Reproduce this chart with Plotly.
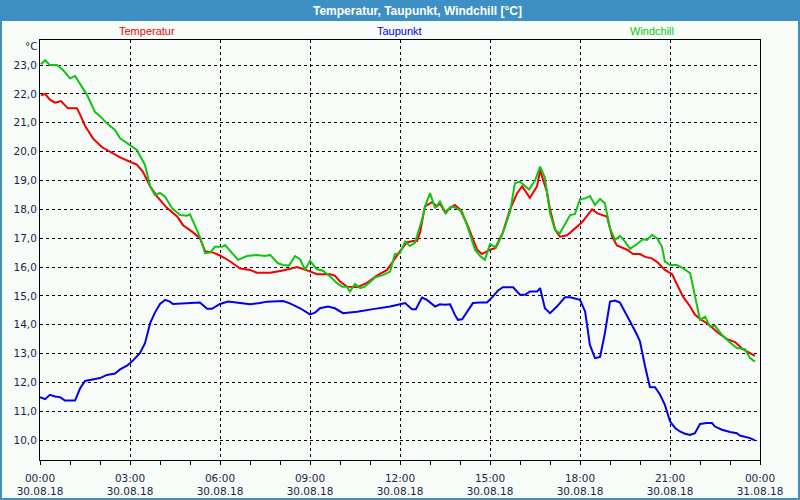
import plotly.graph_objects as go

# hours since 30.08.18 00:00 and readings in degC
temp_hours = [0.03, 0.17, 0.33, 0.5, 0.7, 0.93, 1.23, 1.33, 1.5, 1.77, 2.07, 2.33, 2.67, 3.0, 3.23, 3.43,
              3.67, 3.9, 4.23, 4.57, 4.77, 5.1, 5.33, 5.5, 5.77, 6.0, 6.33, 6.67, 7.0, 7.23, 7.67, 8.1,
              8.57, 9.0, 9.23, 9.67, 9.83, 10.0, 10.23, 10.57, 10.9, 11.23, 11.57, 11.77, 12.0, 12.23,
              12.43, 12.57, 12.67, 12.83, 13.07, 13.23, 13.33, 13.5, 13.67, 13.83, 14.0, 14.23, 14.43,
              14.57, 14.73, 15.0, 15.17, 15.43, 15.67, 15.9, 16.07, 16.33, 16.57, 16.67, 16.9, 17.0,
              17.17, 17.33, 17.57, 17.83, 18.07, 18.4, 18.6, 18.9, 19.07, 19.23, 19.57, 19.77, 20.0,
              20.17, 20.4, 20.6, 20.83, 21.07, 21.27, 21.43, 21.67, 21.83, 22.0, 22.23, 22.4, 22.6,
              22.9, 23.17, 23.43, 23.67, 23.83]
temperatur = [21.95, 22.0, 21.8, 21.7, 21.75, 21.5, 21.5, 21.3, 20.9, 20.45, 20.15, 20.0, 19.8, 19.65,
              19.55, 19.3, 18.8, 18.45, 18.05, 17.75, 17.45, 17.2, 17.0, 16.55, 16.5, 16.4, 16.2, 15.95,
              15.9, 15.8, 15.8, 15.88, 16.0, 15.85, 15.75, 15.75, 15.7, 15.5, 15.32, 15.3, 15.45, 15.7,
              15.9, 16.2, 16.55, 16.85, 16.9, 16.9, 17.2, 18.1, 18.25, 18.1, 18.2, 17.9, 18.05, 18.15,
              18.0, 17.5, 16.95, 16.6, 16.45, 16.6, 16.65, 17.2, 18.0, 18.55, 18.8, 18.4, 18.8, 19.35,
              18.6, 18.0, 17.3, 17.05, 17.1, 17.35, 17.55, 18.0, 17.85, 17.75, 17.05, 16.75, 16.6,
              16.45, 16.45, 16.35, 16.3, 16.15, 15.9, 15.75, 15.3, 14.98, 14.63, 14.35, 14.2, 14.05,
              13.9, 13.72, 13.5, 13.4, 13.15, 13.0, 12.92]

dew_hours = [0.0, 0.17, 0.33, 0.5, 0.67, 0.83, 1.17, 1.33, 1.5, 1.67, 2.0, 2.23, 2.5, 2.67, 2.9, 3.07,
             3.23, 3.33, 3.5, 3.67, 3.83, 4.0, 4.17, 4.33, 4.43, 4.93, 5.33, 5.57, 5.73, 6.0, 6.27,
             6.67, 7.0, 7.33, 7.57, 8.1, 8.33, 8.67, 9.0, 9.17, 9.33, 9.6, 9.83, 10.1, 10.57, 11.1,
             11.67, 12.0, 12.17, 12.4, 12.53, 12.73, 12.9, 13.17, 13.33, 13.5, 13.67, 13.83, 13.93,
             14.07, 14.27, 14.43, 14.67, 14.9, 15.1, 15.27, 15.43, 15.77, 16.0, 16.17, 16.33, 16.57,
             16.67, 16.83, 17.0, 17.23, 17.5, 17.67, 18.0, 18.17, 18.33, 18.5, 18.67, 18.83, 19.0,
             19.17, 19.33, 19.5, 19.67, 19.9, 20.0, 20.17, 20.33, 20.5, 20.67, 20.83, 21.0, 21.17,
             21.33, 21.5, 21.67, 21.83, 22.0, 22.23, 22.4, 22.5, 22.73, 23.0, 23.23, 23.33, 23.67,
             23.83]
taupunkt = [11.49, 11.42, 11.57, 11.51, 11.49, 11.37, 11.37, 11.78, 12.05, 12.08, 12.15, 12.26, 12.31,
            12.45, 12.58, 12.73, 12.92, 13.01, 13.36, 14.05, 14.42, 14.72, 14.86, 14.8, 14.72, 14.75,
            14.77, 14.55, 14.55, 14.72, 14.8, 14.75, 14.71, 14.75, 14.8, 14.82, 14.74, 14.57, 14.36,
            14.42, 14.57, 14.63, 14.57, 14.4, 14.45, 14.54, 14.63, 14.71, 14.75, 14.54, 14.54, 14.94,
            14.86, 14.63, 14.71, 14.69, 14.71, 14.34, 14.17, 14.19, 14.51, 14.75, 14.77, 14.77, 14.98,
            15.19, 15.3, 15.3, 15.04, 15.04, 15.15, 15.15, 15.27, 14.57, 14.4, 14.63, 14.95, 14.95,
            14.86, 14.46, 13.3, 12.84, 12.88, 13.71, 14.8, 14.84, 14.77, 14.46, 14.11, 13.65, 13.42,
            12.55, 11.84, 11.83, 11.57, 11.22, 10.65, 10.42, 10.3, 10.22, 10.18, 10.24, 10.56, 10.59,
            10.59, 10.47, 10.36, 10.28, 10.24, 10.16, 10.07, 9.99]

chill_hours = [0.03, 0.17, 0.33, 0.57, 0.77, 1.0, 1.17, 1.33, 1.57, 1.83, 2.0, 2.23, 2.5, 2.67, 3.0,
               3.23, 3.5, 3.67, 3.83, 4.0, 4.17, 4.4, 4.67, 4.9, 5.0, 5.17, 5.33, 5.5, 5.67, 5.83,
               6.07, 6.17, 6.4, 6.6, 6.9, 7.23, 7.5, 7.67, 7.93, 8.1, 8.3, 8.5, 8.67, 8.83, 9.0, 9.23,
               9.43, 9.67, 9.9, 10.07, 10.23, 10.33, 10.5, 10.67, 10.83, 11.17, 11.43, 11.67, 11.83,
               12.0, 12.17, 12.33, 12.5, 12.6, 12.73, 12.87, 13.0, 13.17, 13.33, 13.53, 13.67, 13.83,
               14.07, 14.27, 14.5, 14.67, 14.83, 15.0, 15.2, 15.4, 15.67, 15.83, 16.0, 16.3, 16.5,
               16.67, 16.83, 17.0, 17.17, 17.33, 17.5, 17.67, 17.83, 18.0, 18.17, 18.33, 18.5, 18.67,
               18.83, 19.0, 19.17, 19.33, 19.5, 19.67, 19.9, 20.1, 20.23, 20.4, 20.57, 20.73, 20.83,
               21.0, 21.23, 21.43, 21.67, 21.77, 21.9, 22.0, 22.17, 22.33, 22.5, 22.73, 23.0, 23.23,
               23.5, 23.67, 23.83]
windchill = [23.03, 23.17, 23.0, 23.0, 22.83, 22.54, 22.62, 22.37, 21.96, 21.38, 21.23, 20.98, 20.75,
             20.46, 20.23, 20.06, 19.54, 18.8, 18.5, 18.57, 18.44, 18.04, 17.8, 17.78, 17.83, 17.4,
             17.05, 16.48, 16.5, 16.7, 16.7, 16.76, 16.48, 16.25, 16.38, 16.42, 16.38, 16.42, 16.13,
             16.07, 16.05, 16.38, 16.27, 15.9, 16.22, 15.92, 15.87, 15.67, 15.44, 15.32, 15.32, 15.15,
             15.41, 15.27, 15.32, 15.64, 15.72, 15.84, 16.45, 16.48, 16.88, 16.73, 16.85, 17.17, 17.63,
             18.21, 18.56, 18.04, 18.27, 17.86, 18.07, 18.07, 17.92, 17.34, 16.6, 16.38, 16.25, 16.8,
             16.67, 17.11, 17.92, 18.9, 18.96, 18.69, 19.0, 19.48, 19.1, 17.86, 17.28, 17.17, 17.46,
             17.8, 17.83, 18.35, 18.38, 18.46, 18.15, 18.36, 18.21, 17.34, 16.94, 17.08, 16.88, 16.63,
             16.8, 16.96, 16.94, 17.11, 17.0, 16.71, 16.19, 16.07, 16.07, 15.96, 15.79, 15.32, 14.63,
             14.17, 14.28, 13.94, 13.96, 13.65, 13.38, 13.19, 13.15, 12.84, 12.72]

x_tickvals = [0, 3, 6, 9, 12, 15, 18, 21, 24]
x_ticktext = ["00:00<br>30.08.18", "03:00<br>30.08.18", "06:00<br>30.08.18", "09:00<br>30.08.18",
              "12:00<br>30.08.18", "15:00<br>30.08.18", "18:00<br>30.08.18", "21:00<br>30.08.18",
              "00:00<br>31.08.18"]
y_tickvals = [10, 11, 12, 13, 14, 15, 16, 17, 18, 19, 20, 21, 22, 23]
y_ticktext = ["10,0", "11,0", "12,0", "13,0", "14,0", "15,0", "16,0", "17,0", "18,0", "19,0",
              "20,0", "21,0", "22,0", "23,0"]

RED = "#f00000"
BLUE = "#0000ee"
GREEN = "#11c411"
FRAME = "#3d8fc4"
BG = "#f8fcf8"
TXT = "#1e1e46"

fig = go.Figure()
fig.add_trace(go.Scatter(x=temp_hours, y=temperatur, mode="lines", name="Temperatur",
                         line=dict(color=RED, width=2)))
fig.add_trace(go.Scatter(x=dew_hours, y=taupunkt, mode="lines", name="Taupunkt",
                         line=dict(color=BLUE, width=2)))
fig.add_trace(go.Scatter(x=chill_hours, y=windchill, mode="lines", name="Windchill",
                         line=dict(color=GREEN, width=2)))


# pixel -> paper helpers (plot area is 40..760 x 40..460)
def px(X):
    return (X - 40) / 720


def py(Y):
    return (460 - Y) / 420


fig.update_layout(
    width=800,
    height=500,
    autosize=False,
    margin=dict(l=40, r=40, t=40, b=40),
    paper_bgcolor=BG,
    plot_bgcolor=BG,
    showlegend=False,
    font=dict(family="DejaVu Sans", size=10.5, color=TXT),
    shapes=[
        # title bar
        dict(type="rect", xref="paper", yref="paper", x0=px(0), x1=px(800), y0=py(21), y1=py(0),
             fillcolor=FRAME, line=dict(width=0), layer="below"),
        # window border
        dict(type="rect", xref="paper", yref="paper", x0=px(1), x1=px(799), y0=py(499), y1=py(1),
             fillcolor="rgba(0,0,0,0)", line=dict(color=FRAME, width=2)),
    ],
    annotations=[
        dict(text="<b>Temperatur, Taupunkt, Windchill [°C]</b>", xref="paper", yref="paper",
             x=px(417), y=py(10.5), showarrow=False, xanchor="center", yanchor="middle",
             font=dict(family="Liberation Sans", size=12, color="white")),
        dict(text="Temperatur", xref="paper", yref="paper", x=px(147), y=py(31), showarrow=False,
             xanchor="center", yanchor="middle", font=dict(family="Liberation Sans", size=11, color=RED)),
        dict(text="Taupunkt", xref="paper", yref="paper", x=px(399), y=py(31), showarrow=False,
             xanchor="center", yanchor="middle", font=dict(family="Liberation Sans", size=11, color=BLUE)),
        dict(text="Windchill", xref="paper", yref="paper", x=px(652), y=py(31), showarrow=False,
             xanchor="center", yanchor="middle", font=dict(family="Liberation Sans", size=11, color=GREEN)),
        dict(text="°C", xref="paper", yref="paper", x=px(31), y=py(46), showarrow=False,
             xanchor="center", yanchor="middle", font=dict(family="DejaVu Sans", size=10.5, color=TXT)),
    ],
)

fig.update_xaxes(
    range=[0, 24],
    tickvals=x_tickvals,
    ticktext=x_ticktext,
    automargin=False,
    showgrid=True,
    gridcolor="black",
    griddash="3px,3px",
    gridwidth=1,
    zeroline=False,
    showline=True,
    linecolor="black",
    linewidth=1,
    mirror=True,
    ticks="outside",
    ticklen=4,
    tickcolor="black",
    ticklabelstandoff=4,
    minor=dict(dtick=1, tick0=0, ticks="outside", ticklen=4, tickcolor="black", showgrid=False),
)
fig.update_yaxes(
    range=[9.31, 23.87],
    tickvals=y_tickvals,
    ticktext=y_ticktext,
    automargin=False,
    showgrid=True,
    gridcolor="black",
    griddash="3px,3px",
    gridwidth=1,
    zeroline=False,
    showline=True,
    linecolor="black",
    linewidth=1,
    mirror=True,
    ticks="",
)

# the page's default body margin would shift the 800x500 figure out of the window
fig.write_html(
    "out.html",
    config={"displayModeBar": False},
    post_script="document.body.style.margin='0';document.body.style.overflow='hidden';",
)
